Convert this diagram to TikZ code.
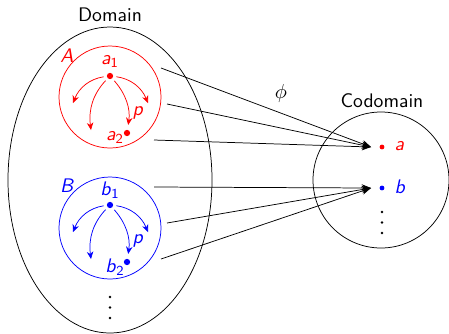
\documentclass[tikz,border=0pt]{standalone}
\usetikzlibrary{arrows.meta}
\begin{document}
\begin{tikzpicture}[x=0.54pt,y=-0.54pt,font=\sffamily\fontsize{10.6}{12.5}\selectfont,
  dotr/.style={circle,fill=red,inner sep=0pt,minimum size=3.4pt},
  dotb/.style={circle,fill=blue,inner sep=0pt,minimum size=3.4pt},
  smalldot/.style={circle,inner sep=0pt,minimum size=2.6pt},
  inarrow/.style={-{Stealth[length=4pt,width=3.5pt]},thin,shorten <=1.6pt},
  maparrow/.style={-{Stealth[length=5pt,width=4pt]},thin},
  tinydot/.style={circle,fill=black,inner sep=0pt,minimum size=1.4pt}]
\useasboundingbox (0,0) rectangle (449,333);
% domain
\draw[thin] (110,180) ellipse [x radius=102, y radius=153];
\node (domlab) at (110,15) {Domain};
% codomain
\draw[thin] (381,180) circle [radius=68];
\node (codlab) at (382,101) {Codomain};
% set A
\draw[red,thin] (110,97) circle [radius=51];
\node[red] (Alab) at (67,56) {\textit{A}};
\node[dotr] (a1) at (110,76) {};
\node[red] (a1lab) at (110,61) {\textit{a}\textsubscript{1}};
\node[dotr] (a2) at (127,133) {};
\node[red] (a2lab) at (115,137) {\textit{a}\textsubscript{2}};
\node[red] (pA) at (138,113) {\textit{p}};
\coordinate (ae1) at (73,103);
\coordinate (ae2) at (91,130);
\coordinate (ae4) at (148,103);
\draw[red,inarrow] (a1) to[bend right=30] (ae1);
\draw[red,inarrow] (a1) to[bend right=25] (ae2);
\draw[red,inarrow,shorten >=2.5pt] (a1) to[bend left=25] (a2);
\draw[red,inarrow] (a1) to[bend left=30] (ae4);
% set B
\draw[blue,thin] (110,228) circle [radius=51];
\node[blue] (Blab) at (67,186) {\textit{B}};
\node[dotb] (b1) at (110,205) {};
\node[blue] (b1lab) at (110,190) {\textit{b}\textsubscript{1}};
\node[dotb] (b2) at (127,262) {};
\node[blue] (b2lab) at (115,267) {\textit{b}\textsubscript{2}};
\node[blue] (pB) at (138,241) {\textit{p}};
\coordinate (be1) at (73,232);
\coordinate (be2) at (91,259);
\coordinate (be4) at (148,232);
\draw[blue,inarrow] (b1) to[bend right=30] (be1);
\draw[blue,inarrow] (b1) to[bend right=25] (be2);
\draw[blue,inarrow,shorten >=2.5pt] (b1) to[bend left=25] (b2);
\draw[blue,inarrow] (b1) to[bend left=30] (be4);
% dots in domain
\node[tinydot] (dd1) at (110,297) {};
\node[tinydot] (dd2) at (110,307.5) {};
\node[tinydot] (dd3) at (110,318) {};
% codomain points
\node[smalldot,fill=red] (ca) at (382,147) {};
\node[red,anchor=west] (calab) at (388,146) {\textit{a}};
\node[smalldot,fill=blue] (cb) at (382,188) {};
\node[blue,anchor=west] (cblab) at (388,187) {\textit{b}};
\node[tinydot] (cd1) at (382,212) {};
\node[tinydot] (cd2) at (382,222.5) {};
\node[tinydot] (cd3) at (382,233) {};
\coordinate (ta) at (371,147);
\coordinate (tb) at (371,188);
% map arrows
\coordinate (s1) at (161,68);
\coordinate (s2) at (167,104);
\coordinate (s3) at (154,140);
\coordinate (s4) at (154,187);
\coordinate (s5) at (167,223);
\coordinate (s6) at (161,259);
\foreach \s in {s1,s2,s3} \draw[maparrow] (\s) -- (ta);
\foreach \s in {s4,s5,s6} \draw[maparrow] (\s) -- (tb);
\node (phi) at (281,93) {$\phi$};
\end{tikzpicture}
\end{document}
